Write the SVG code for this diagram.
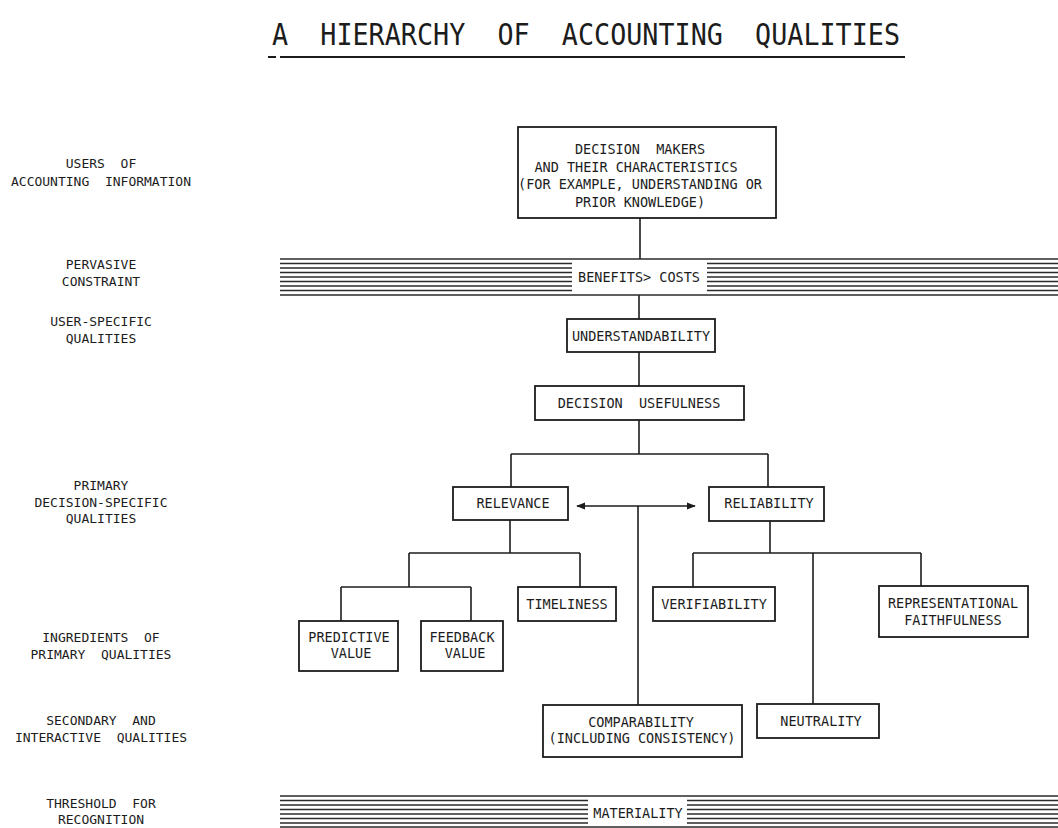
<svg xmlns="http://www.w3.org/2000/svg" width="1058" height="828" viewBox="0 0 1058 828" xml:space="preserve">
<style>
text{font-family:"DejaVu Sans Mono","Liberation Mono",monospace;fill:#1c1c1c;white-space:pre;}
.t{font-size:13.5px;text-anchor:middle;}
.lbl{font-size:13px;text-anchor:middle;}
.title{font-size:31px;}
.box{fill:none;stroke:#1c1c1c;stroke-width:1.8;}
.con line,.con path{stroke:#1c1c1c;stroke-width:1.6;fill:none;}
.band line{stroke:#2a2a2a;stroke-width:1.6;}
</style>
<defs>
<marker id="ah" viewBox="0 0 10 10" refX="9" refY="5" markerWidth="9" markerHeight="9" markerUnits="userSpaceOnUse" orient="auto-start-reverse">
<path d="M0,1 L10,5 L0,9 Z" fill="#1c1c1c"/>
</marker>
</defs>
<rect width="1058" height="828" fill="#ffffff"/>

<g id="title">
<text class="title" x="272" y="45" textLength="628" lengthAdjust="spacingAndGlyphs">A  HIERARCHY  OF  ACCOUNTING  QUALITIES</text>
<line x1="268" y1="57" x2="276" y2="57" stroke="#1c1c1c" stroke-width="2"/>
<line x1="280" y1="57" x2="905" y2="57" stroke="#1c1c1c" stroke-width="2"/>
</g>

<g id="row-labels">
<text class="lbl" x="101" y="168">USERS  OF</text>
<text class="lbl" x="101" y="186">ACCOUNTING  INFORMATION</text>
<text class="lbl" x="101" y="269">PERVASIVE</text>
<text class="lbl" x="101" y="286">CONSTRAINT</text>
<text class="lbl" x="101" y="326">USER-SPECIFIC</text>
<text class="lbl" x="101" y="343">QUALITIES</text>
<text class="lbl" x="101" y="490">PRIMARY</text>
<text class="lbl" x="101" y="507">DECISION-SPECIFIC</text>
<text class="lbl" x="101" y="523">QUALITIES</text>
<text class="lbl" x="101" y="642">INGREDIENTS  OF</text>
<text class="lbl" x="101" y="659">PRIMARY  QUALITIES</text>
<text class="lbl" x="101" y="725">SECONDARY  AND</text>
<text class="lbl" x="101" y="742">INTERACTIVE  QUALITIES</text>
<text class="lbl" x="101" y="808">THRESHOLD  FOR</text>
<text class="lbl" x="101" y="824">RECOGNITION</text>
</g>

<g id="connectors" class="con">
<line x1="640" y1="218" x2="640" y2="259"/>
<line x1="639" y1="295" x2="639" y2="319"/>
<line x1="639" y1="352" x2="639" y2="386"/>
<line x1="639" y1="420" x2="639" y2="454"/>
<line x1="511" y1="454" x2="768" y2="454"/>
<line x1="511" y1="454" x2="511" y2="487"/>
<line x1="768" y1="454" x2="768" y2="487"/>
<line x1="577" y1="506" x2="695" y2="506" marker-start="url(#ah)" marker-end="url(#ah)"/>
<line x1="638" y1="506" x2="638" y2="705"/>
<line x1="510" y1="520" x2="510" y2="553"/>
<line x1="409" y1="553" x2="580" y2="553"/>
<line x1="409" y1="553" x2="409" y2="587"/>
<line x1="580" y1="553" x2="580" y2="587"/>
<line x1="341" y1="587" x2="471" y2="587"/>
<line x1="341" y1="587" x2="341" y2="621"/>
<line x1="471" y1="587" x2="471" y2="621"/>
<line x1="770" y1="521" x2="770" y2="553"/>
<line x1="693" y1="553" x2="921" y2="553"/>
<line x1="693" y1="553" x2="693" y2="587"/>
<line x1="921" y1="553" x2="921" y2="586"/>
<line x1="813" y1="553" x2="813" y2="704"/>
</g>

<g id="benefits-costs" class="band">
<line x1="280" y1="259" x2="1058" y2="259"/>
<line x1="280" y1="263.5" x2="572" y2="263.5"/><line x1="707" y1="263.5" x2="1058" y2="263.5"/>
<line x1="280" y1="268" x2="572" y2="268"/><line x1="707" y1="268" x2="1058" y2="268"/>
<line x1="280" y1="272.5" x2="572" y2="272.5"/><line x1="707" y1="272.5" x2="1058" y2="272.5"/>
<line x1="280" y1="277" x2="572" y2="277"/><line x1="707" y1="277" x2="1058" y2="277"/>
<line x1="280" y1="281.5" x2="572" y2="281.5"/><line x1="707" y1="281.5" x2="1058" y2="281.5"/>
<line x1="280" y1="286" x2="572" y2="286"/><line x1="707" y1="286" x2="1058" y2="286"/>
<line x1="280" y1="290.5" x2="572" y2="290.5"/><line x1="707" y1="290.5" x2="1058" y2="290.5"/>
<line x1="280" y1="295" x2="1058" y2="295"/>
<text class="t" x="639" y="282">BENEFITS&gt; COSTS</text>
</g>

<g id="materiality" class="band">
<line x1="280" y1="796" x2="1058" y2="796"/>
<line x1="280" y1="800.5" x2="588" y2="800.5"/><line x1="687" y1="800.5" x2="1058" y2="800.5"/>
<line x1="280" y1="805" x2="588" y2="805"/><line x1="687" y1="805" x2="1058" y2="805"/>
<line x1="280" y1="809.5" x2="588" y2="809.5"/><line x1="687" y1="809.5" x2="1058" y2="809.5"/>
<line x1="280" y1="814" x2="588" y2="814"/><line x1="687" y1="814" x2="1058" y2="814"/>
<line x1="280" y1="818.5" x2="588" y2="818.5"/><line x1="687" y1="818.5" x2="1058" y2="818.5"/>
<line x1="280" y1="823" x2="588" y2="823"/><line x1="687" y1="823" x2="1058" y2="823"/>
<line x1="280" y1="827" x2="1058" y2="827"/>
<text class="t" x="638" y="818">MATERIALITY</text>
</g>

<g id="decision-makers">
<rect class="box" x="518" y="127" width="258" height="91"/>
<text class="t" x="640" y="154">DECISION  MAKERS</text>
<text class="t" x="636" y="172">AND THEIR CHARACTERISTICS</text>
<text class="t" x="640" y="189">(FOR EXAMPLE, UNDERSTANDING OR</text>
<text class="t" x="640" y="207">PRIOR KNOWLEDGE)</text>
</g>

<g id="understandability">
<rect class="box" x="567" y="319" width="148" height="33"/>
<text class="t" x="641" y="341">UNDERSTANDABILITY</text>
</g>

<g id="decision-usefulness">
<rect class="box" x="535" y="386" width="209" height="34"/>
<text class="t" x="639" y="408">DECISION  USEFULNESS</text>
</g>

<g id="relevance">
<rect class="box" x="453" y="487" width="115" height="33"/>
<text class="t" x="513" y="508">RELEVANCE</text>
</g>

<g id="reliability">
<rect class="box" x="709" y="487" width="115" height="34"/>
<text class="t" x="769" y="508">RELIABILITY</text>
</g>

<g id="predictive-value">
<rect class="box" x="299" y="621" width="99" height="50"/>
<text class="t" x="349" y="642">PREDICTIVE</text>
<text class="t" x="351" y="658">VALUE</text>
</g>

<g id="feedback-value">
<rect class="box" x="421" y="621" width="82" height="50"/>
<text class="t" x="462" y="642">FEEDBACK</text>
<text class="t" x="465" y="658">VALUE</text>
</g>

<g id="timeliness">
<rect class="box" x="518" y="587" width="98" height="34"/>
<text class="t" x="567" y="609">TIMELINESS</text>
</g>

<g id="verifiability">
<rect class="box" x="653" y="587" width="122" height="34"/>
<text class="t" x="714" y="609">VERIFIABILITY</text>
</g>

<g id="representational-faithfulness">
<rect class="box" x="879" y="586" width="149" height="51"/>
<text class="t" x="953" y="608">REPRESENTATIONAL</text>
<text class="t" x="953" y="625">FAITHFULNESS</text>
</g>

<g id="comparability">
<rect class="box" x="543" y="705" width="199" height="52"/>
<text class="t" x="641" y="727">COMPARABILITY</text>
<text class="t" x="642" y="743">(INCLUDING CONSISTENCY)</text>
</g>

<g id="neutrality">
<rect class="box" x="757" y="704" width="122" height="34"/>
<text class="t" x="821" y="726">NEUTRALITY</text>
</g>
</svg>
